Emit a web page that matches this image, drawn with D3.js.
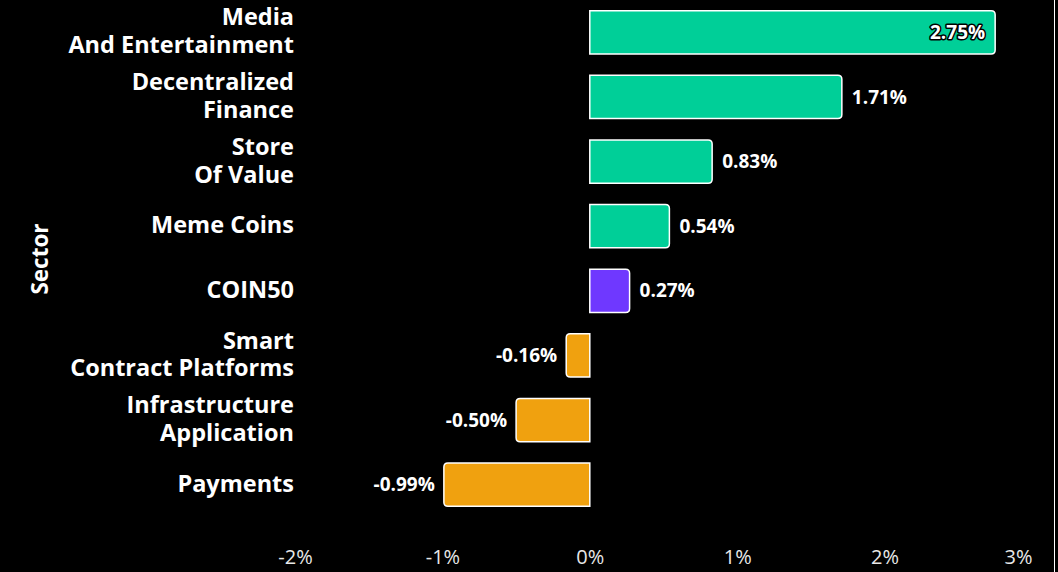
<!DOCTYPE html>
<html>
<head>
<meta charset="utf-8">
<script src="https://cdn.jsdelivr.net/npm/d3@7"></script>
<style>
  html, body { margin: 0; padding: 0; background: #000; }
  svg { display: block; font-family: "Open Sans", "Noto Sans", sans-serif; }
</style>
</head>
<body>
<div id="chart"></div>
<script>
// data
var sectors = [
  ["Media", "And Entertainment"],
  ["Decentralized", "Finance"],
  ["Store", "Of Value"],
  ["Meme Coins"],
  ["COIN50"],
  ["Smart", "Contract Platforms"],
  ["Infrastructure", "Application"],
  ["Payments"]
];
var returns = [2.75, 1.71, 0.83, 0.54, 0.27, -0.16, -0.50, -0.99];
var groups = ["up", "up", "up", "up", "index", "down", "down", "down"];
var xTicks = [-2, -1, 0, 1, 2, 3];

var colors = { up: "#00cf98", index: "#6f38ff", down: "#f0a10f" };

var W = 1058, H = 572;
var svg = d3.select("#chart").append("svg")
  .attr("width", W).attr("height", H);

svg.append("rect").attr("width", W).attr("height", H).attr("fill", "#000");

var x = d3.scaleLinear().domain([-2, 3]).range([295, 1032]);
var y = d3.scaleBand().domain(d3.range(sectors.length)).range([0, 517])
  .paddingInner(0.33).paddingOuter(0.165);

var data = returns.map(function(v, i) {
  return { i: i, v: v, label: sectors[i], g: groups[i] };
});

// bar with rounded outer end only
function barPath(d) {
  var x0 = x(0), x1 = x(d.v), y0 = y(d.i), h = y.bandwidth();
  var r = Math.min(4, Math.abs(x1 - x0) / 2);
  var s = x1 > x0 ? 1 : -1;
  return "M" + x0 + "," + y0 +
    "H" + (x1 - s * r) +
    "Q" + x1 + "," + y0 + " " + x1 + "," + (y0 + r) +
    "V" + (y0 + h - r) +
    "Q" + x1 + "," + (y0 + h) + " " + (x1 - s * r) + "," + (y0 + h) +
    "H" + x0 + "Z";
}

svg.append("g").selectAll("path")
  .data(data).enter().append("path")
  .attr("d", barPath)
  .attr("fill", function(d) { return colors[d.g]; })
  .attr("stroke", "#fff")
  .attr("stroke-width", 1.5);

// value labels (plain hyphen for negatives, as in the picture)
var fmt = function(v) { return v.toFixed(2) + "%"; };
svg.append("g").selectAll("text")
  .data(data).enter().append("text")
  .attr("x", function(d) {
    if (d.v > 2.5) return x(d.v) - 10;
    return d.v >= 0 ? x(d.v) + 10 : x(d.v) - 9;
  })
  .attr("y", function(d) { return y(d.i) + y.bandwidth() / 2; })
  .attr("dy", "0.35em")
  .attr("text-anchor", function(d) { return (d.v >= 0 && d.v <= 2.5) ? "start" : "end"; })
  .attr("font-size", 19)
  .attr("font-weight", 700)
  .attr("fill", "#fff")
  .attr("stroke", function(d) { return d.v > 2.5 ? "#000" : "none"; })
  .attr("stroke-width", 3)
  .attr("paint-order", "stroke")
  .attr("stroke-linejoin", "round")
  .text(function(d) { return fmt(d.v); });

// y category labels
var yl = svg.append("g").selectAll("text")
  .data(data).enter().append("text")
  .attr("text-anchor", "end")
  .attr("font-size", 23.5)
  .attr("font-weight", 700)
  .attr("fill", "#fff")
  .attr("transform", function(d) {
    var n = d.label.length;
    var cy = y(d.i) + y.bandwidth() / 2;
    return "translate(294," + (cy - (n - 1) * 14) + ")";
  });
yl.selectAll("tspan")
  .data(function(d) { return d.label; })
  .enter().append("tspan")
  .attr("x", 0)
  .attr("y", function(t, j) { return j * 28; })
  .attr("dy", "0.3em")
  .text(function(t) { return t; });

// axis title
svg.append("text")
  .attr("transform", "translate(40,259) rotate(-90)")
  .attr("text-anchor", "middle")
  .attr("dy", "0.35em")
  .attr("font-size", 22.5)
  .attr("font-weight", 700)
  .attr("fill", "#fff")
  .text("Sector");

// x axis, labels only
var xAxis = svg.append("g")
  .attr("transform", "translate(0,517)")
  .call(d3.axisBottom(x).tickValues(xTicks).tickSize(0).tickPadding(0)
    .tickFormat(function(d) { return d + "%"; }));
xAxis.select(".domain").remove();
xAxis.selectAll("text")
  .attr("y", 47)
  .attr("dy", 0)
  .attr("font-size", 20)
  .attr("font-family", "Open Sans, Noto Sans, sans-serif")
  .attr("fill", "#e8e8e8")
  .attr("text-anchor", function(d, k) { return k === xTicks.length - 1 ? "end" : "middle"; });

// right edge line
svg.append("line")
  .attr("x1", 1054.5).attr("x2", 1054.5)
  .attr("y1", 0).attr("y2", H)
  .attr("stroke", "#fff").attr("stroke-width", 1);
</script>
</body>
</html>
